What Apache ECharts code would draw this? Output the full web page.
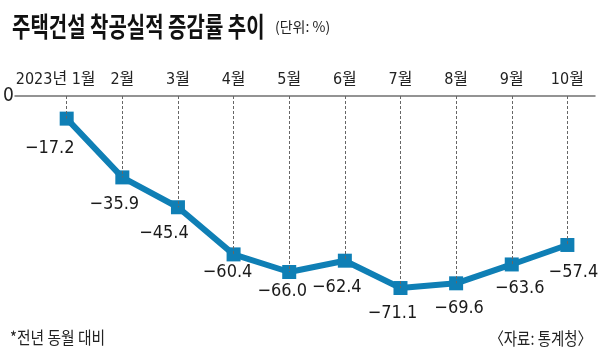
<!DOCTYPE html>
<html>
<head>
<meta charset="utf-8">
<script src="https://cdn.jsdelivr.net/npm/echarts@6/dist/echarts.min.js"></script>
<style>
html,body{margin:0;padding:0;background:#fff;}
#chart{width:600px;height:361px;}
</style>
</head>
<body>
<div id="chart"></div>
<script>
// ---- data ----
const categories = ['2023년 1월', '2월', '3월', '4월', '5월', '6월', '7월', '8월', '9월', '10월'];
const values = [-17.2, -35.9, -45.4, -60.4, -66.0, -62.4, -71.1, -69.6, -63.6, -57.4];
const yTickLabels = ['0'];
const yMin = -80;
const yMax = -10;
const titleText = '주택건설 착공실적 증감률 추이';
const unitText = '(단위: %)';
const noteText = '*전년 동월 대비';
const sourceText = '〈자료: 통계청〉';

// ---- layout (label offsets in px) ----
const labelOffsets = [[-17, 30], [-8, 27], [-14, 26], [-6, 18], [-7, 19], [-8, 27], [-8, 25], [3, 25], [8, 24], [6, 27]];

const NARROW = '"Liberation Sans Narrow", "Arial Narrow", "DejaVu Sans Condensed", "Noto Sans CJK KR", sans-serif';
const blue = '#0f7fb5';

const chart = echarts.init(document.getElementById('chart'), null, {renderer: 'canvas'});

const option = {
  animation: false,
  backgroundColor: '#fff',
  grid: [
    {left: 37.8, right: 4.8, top: 96, height: 220},
    {left: 15, right: 5, top: 96, height: 220}
  ],
  xAxis: [
    {
      type: 'category', gridIndex: 0, position: 'top', data: categories, boundaryGap: true,
      axisLine: {show: false}, axisTick: {show: false}, splitLine: {show: false},
      axisLabel: {
        margin: 8, fontSize: 16, color: '#222', fontFamily: NARROW, interval: 0,
        formatter: (v, i) => i === 0 ? v + '{pad| }' : v,
        rich: {pad: {width: 22, fontSize: 16}}
      }
    },
    {
      type: 'value', gridIndex: 1, position: 'top', min: 0, max: 1,
      axisLine: {show: true, onZero: false, lineStyle: {color: '#707070', width: 1.5}},
      axisTick: {show: false}, axisLabel: {show: false}, splitLine: {show: false}
    }
  ],
  yAxis: [
    {
      type: 'value', gridIndex: 0, min: yMin, max: yMax, interval: 10,
      axisLine: {show: false}, axisTick: {show: false}, splitLine: {show: false},
      axisLabel: {
        margin: 25, fontSize: 19, color: '#222', fontFamily: NARROW,
        formatter: v => v === yMax ? yTickLabels[0] : ''
      }
    },
    {
      type: 'value', gridIndex: 1, min: 0, max: 1,
      axisLine: {show: false}, axisTick: {show: false}, axisLabel: {show: false}, splitLine: {show: false}
    }
  ],
  series: [
    {
      type: 'line', xAxisIndex: 0, yAxisIndex: 0, data: values, z: 1,
      symbol: 'none', lineStyle: {opacity: 0}, silent: true,
      markLine: {
        silent: true, symbol: ['none', 'none'], animation: false,
        label: {show: false},
        lineStyle: {color: '#666', width: 1, type: [3, 2]},
        data: values.map((v, i) => [{coord: [categories[i], yMax]}, {coord: [categories[i], v]}])
      }
    },
    {
      type: 'line', xAxisIndex: 0, yAxisIndex: 0, z: 3,
      data: values.map((v, i) => ({value: v, label: {offset: labelOffsets[i]}})),
      symbol: 'rect', symbolSize: 14,
      lineStyle: {color: blue, width: 6},
      itemStyle: {color: blue},
      label: {
        show: true, position: 'inside', align: 'center', verticalAlign: 'middle',
        fontSize: 18, color: '#1a1a1a', fontFamily: NARROW,
        formatter: p => p.value.toFixed(1).replace('-', '\u2212')
      }
    },
    {
      type: 'line', xAxisIndex: 1, yAxisIndex: 1, data: [], silent: true
    }
  ],
  graphic: [
    {type: 'text', x: 12, y: 27, scaleX: 0.74,
     style: {text: titleText, font: 'bold 27px "Noto Sans CJK KR"', fill: '#111', textVerticalAlign: 'middle'}},
    {type: 'text', x: 275, y: 27,
     style: {text: unitText, font: '14px "Noto Sans CJK KR"', fill: '#222', textVerticalAlign: 'middle'}},
    {type: 'text', x: 10, y: 338, scaleX: 0.87,
     style: {text: noteText, font: '17px "Noto Sans CJK KR"', fill: '#222', textVerticalAlign: 'middle'}},
    {type: 'text', x: 592, y: 339, scaleX: 0.85,
     style: {text: sourceText, font: '17px "Noto Sans CJK KR"', fill: '#222', textAlign: 'right', textVerticalAlign: 'middle'}}
  ]
};
chart.setOption(option);
</script>
</body>
</html>
